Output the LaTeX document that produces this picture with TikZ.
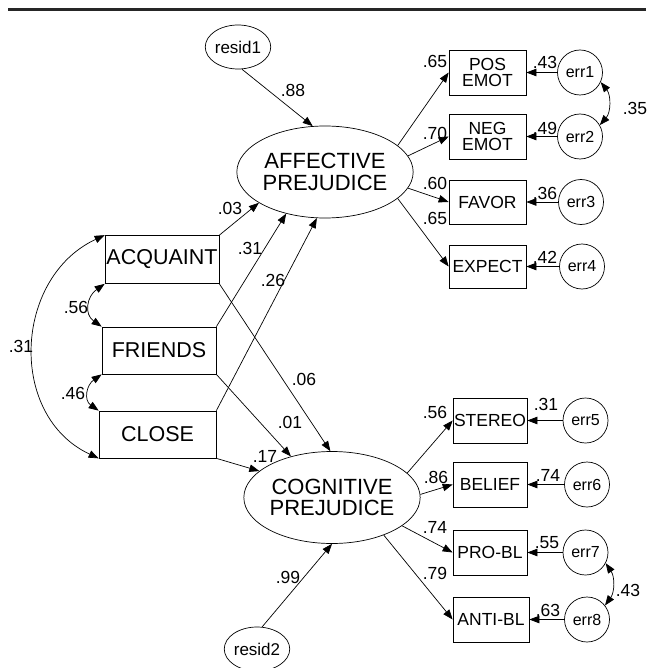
\documentclass[tikz,border=0pt]{standalone}
\usepackage{fontspec}
\setmainfont{Liberation Sans}
\usetikzlibrary{arrows.meta,shapes.geometric}

\tikzset{
  latent/.style={draw,ellipse,inner sep=0pt,minimum width=151pt,minimum height=92pt,align=center,font=\fontsize{22}{21.5}\selectfont},
  exobox/.style={draw,rectangle,inner sep=0pt,minimum width=114pt,minimum height=48pt,font=\fontsize{21.5}{23}\selectfont},
  indbox/.style={draw,rectangle,inner sep=0pt,minimum width=77pt,minimum height=45pt,align=center,font=\fontsize{17.5}{16}\selectfont},
  errc/.style={draw,circle,inner sep=0pt,minimum size=45pt,font=\fontsize{16}{17}\selectfont},
  resid/.style={draw,ellipse,inner sep=0pt,minimum width=50pt,minimum height=44pt,font=\fontsize{17}{18}\selectfont},
  regarrow/.style={-{Triangle[length=10pt,width=7.5pt]}},
  covarrow/.style={{Triangle[length=10pt,width=7.5pt]}-{Triangle[length=10pt,width=7.5pt]}},
  coef/.style={inner sep=0pt,font=\fontsize{17.5}{19}\selectfont},
}

\begin{document}
\begin{tikzpicture}[x=1pt,y=1pt,line width=0.7pt]
  \useasboundingbox (0,0) rectangle (646,-668);
  \draw[line width=3pt,black!85] (8,-10) -- (646,-10);

  % latent variables and residuals
  \node[resid] (r1) at (238,-47) {resid1};
  \node[latent] (aff) at (325,-172) {AFFECTIVE\\PREJUDICE};
  \node[latent] (cog) at (332,-497.5) {COGNITIVE\\PREJUDICE};
  \node[resid] (r2) at (257,-649) {resid2};

  % contact measures
  \node[exobox] (acq) at (162,-259.5) {ACQUAINT};
  \node[exobox,minimum height=47pt] (fri) at (159,-350.5) {FRIENDS};
  \node[exobox,minimum width=117pt,minimum height=47pt] (clo) at (157.5,-434.5) {CLOSE};

  % indicators
  \node[indbox] (pos) at (487.5,-72.5) {POS\\EMOT};
  \node[indbox] (neg) at (487.5,-136.5) {NEG\\EMOT};
  \node[indbox,minimum height=44pt] (fav) at (487.5,-202) {FAVOR};
  \node[indbox,minimum height=43pt] (exp) at (487.5,-266.5) {EXPECT};
  \node[indbox,minimum width=74pt] (ste) at (490,-420.5) {STEREO};
  \node[indbox,minimum width=74pt] (bel) at (490,-484.5) {BELIEF};
  \node[indbox,minimum width=74pt] (pro) at (490,-552.5) {PRO-BL};
  \node[indbox,minimum width=76pt] (ant) at (491,-619.5) {ANTI-BL};

  \node[errc] (e1) at (580,-72.5) {err1};
  \node[errc] (e2) at (580,-136.5) {err2};
  \node[errc] (e3) at (581,-202) {err3};
  \node[errc] (e4) at (582,-266.5) {err4};
  \node[errc] (e5) at (585.5,-420.5) {err5};
  \node[errc] (e6) at (587,-484.5) {err6};
  \node[errc] (e7) at (585.5,-552.5) {err7};
  \node[errc] (e8) at (587,-619.5) {err8};

  % structural paths
  \draw[regarrow] (r1.-80) -- (aff.105);
  \draw[regarrow] (acq.north east) -- (aff.205);
  \draw[regarrow] (fri.north east) -- (aff.227);
  \draw[regarrow] (clo.north east) -- (aff.260);
  \draw[regarrow] (acq.south east) -- (cog.92);
  \draw[regarrow] (fri.south east) -- (cog.135);
  \draw[regarrow] (clo.south east) -- (cog.160);
  \draw[regarrow] (r2.77) -- (cog.south);

  % loadings
  \draw[regarrow] (aff.20) -- (pos.west);
  \draw[regarrow] (aff.11) -- (neg.west);
  \draw[regarrow] (aff.-11) -- (fav.west);
  \draw[regarrow] (aff.-20) -- (exp.west);
  \draw[regarrow] (cog.18) -- (ste.west);
  \draw[regarrow] (cog.2) -- (bel.west);
  \draw[regarrow] (cog.-22) -- (pro.west);
  \draw[regarrow] (cog.-36) -- (ant.west);
  \foreach \e/\v in {e1/pos,e2/neg,e3/fav,e4/exp,e5/ste,e6/bel,e7/pro,e8/ant}
    \draw[regarrow] (\e) -- (\v);

  % covariances
  \draw[covarrow] (acq.north west) to[out=205,in=155,looseness=1.15] (clo.south west);
  \draw[covarrow] (acq.south west) to[out=215,in=145,looseness=1.3] (fri.north west);
  \draw[covarrow] (fri.south west) to[out=215,in=145,looseness=1.3] (clo.north west);
  \draw[covarrow] (e1.-25) to[bend left=40] (e2.30);
  \draw[covarrow] (e7.-28) to[bend left=35] (e8.38);

  % coefficients
  \node[coef] (c88) at (293,-90) {.88};
  \node[coef] (c03) at (230,-208) {.03};
  \node[coef] (c31) at (250,-248) {.31};
  \node[coef] (c26) at (273,-280) {.26};
  \node[coef] (c06) at (304,-379) {.06};
  \node[coef] (c01) at (290,-422) {.01};
  \node[coef] (c17) at (265,-456) {.17};
  \node[coef] (c99) at (288,-577) {.99};
  \node[coef] (c56l) at (76,-307) {.56};
  \node[coef] (c46) at (73,-393) {.46};
  \node[coef] (c31l) at (21,-346) {.31};
  \node[coef] (c65a) at (435,-61) {.65};
  \node[coef] (c70) at (435,-133) {.70};
  \node[coef] (c60) at (435,-183) {.60};
  \node[coef] (c65b) at (435,-218) {.65};
  \node[coef] (c43a) at (545,-62) {.43};
  \node[coef] (c49) at (545,-128) {.49};
  \node[coef] (c36) at (545,-193) {.36};
  \node[coef] (c42) at (545,-257) {.42};
  \node[coef] (c35) at (635,-108) {.35};
  \node[coef] (c56) at (435,-412) {.56};
  \node[coef] (c86) at (436,-477) {.86};
  \node[coef] (c74a) at (435,-527) {.74};
  \node[coef] (c79) at (435,-573) {.79};
  \node[coef] (c31r) at (546,-404) {.31};
  \node[coef] (c74b) at (548,-475) {.74};
  \node[coef] (c55) at (547,-543) {.55};
  \node[coef] (c63) at (548,-610) {.63};
  \node[coef] (c43b) at (628,-590) {.43};
\end{tikzpicture}
\end{document}
